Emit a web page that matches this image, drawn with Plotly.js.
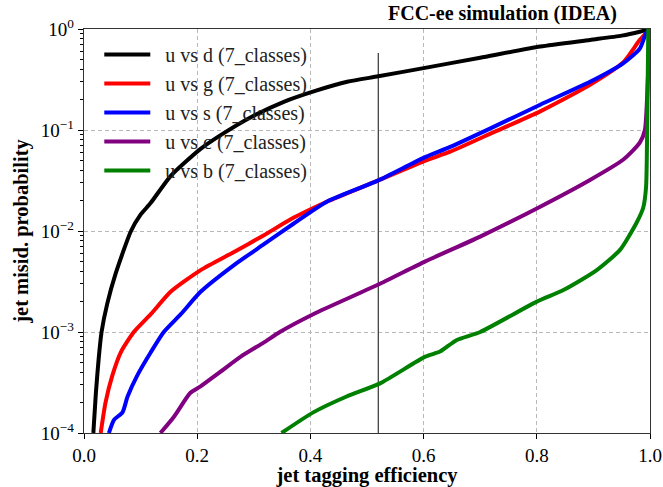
<!DOCTYPE html>
<html>
<head>
<meta charset="utf-8">
<script src="https://cdn.plot.ly/plotly-3.0.1.min.js"></script>
<style>html,body{margin:0;padding:0;background:#fff;}#chart{width:663px;height:487px;}</style>
</head>
<body>
<div id="chart"></div>
<script>
// u vs d
const eff_d  = [0.0165, 0.021, 0.026, 0.031, 0.041, 0.056, 0.083, 0.1, 0.118, 0.153, 0.206, 0.247, 0.294, 0.353, 0.41, 0.465, 0.52, 0.6, 0.7, 0.806, 0.894, 0.95, 0.982, 1.0];
const prob_d = [1e-4, 2.5e-4, 5.5e-4, 1e-3, 1.9e-3, 3.8e-3, 0.01, 0.0145, 0.019, 0.035, 0.065, 0.093, 0.133, 0.19, 0.245, 0.30, 0.34, 0.41, 0.52, 0.67, 0.78, 0.86, 0.94, 1.0];
// u vs g
const eff_g  = [0.0295, 0.038, 0.05, 0.065, 0.088, 0.118, 0.153, 0.206, 0.265, 0.318, 0.37, 0.429, 0.519, 0.6, 0.647, 0.72, 0.806, 0.894, 0.953, 0.982, 0.995, 1.0];
const prob_g = [1e-4, 2e-4, 3.7e-4, 6.3e-4, 1e-3, 1.5e-3, 2.5e-3, 4.1e-3, 6.2e-3, 9.1e-3, 0.0135, 0.0195, 0.0315, 0.049, 0.061, 0.093, 0.153, 0.28, 0.47, 0.78, 0.93, 1.0];
// u vs s
const eff_s  = [0.044, 0.053, 0.068, 0.077, 0.094, 0.118, 0.141, 0.171, 0.206, 0.265, 0.318, 0.37, 0.429, 0.519, 0.6, 0.647, 0.72, 0.806, 0.894, 0.953, 0.982, 0.993, 1.0];
const prob_s = [1e-4, 1.35e-4, 1.6e-4, 2.3e-4, 3.7e-4, 6.3e-4, 1e-3, 1.5e-3, 2.5e-3, 4.6e-3, 7.4e-3, 0.0118, 0.0195, 0.0315, 0.053, 0.068, 0.105, 0.178, 0.30, 0.46, 0.64, 0.91, 1.0];
// u vs c
const eff_c  = [0.135, 0.159, 0.188, 0.206, 0.24, 0.277, 0.318, 0.346, 0.405, 0.523, 0.603, 0.70, 0.806, 0.894, 0.953, 0.982, 0.991, 0.996, 1.0];
const prob_c = [1e-4, 1.45e-4, 2.5e-4, 2.9e-4, 4e-4, 5.7e-4, 7.9e-4, 1e-3, 1.5e-3, 3.0e-3, 5e-3, 8.8e-3, 0.0174, 0.032, 0.051, 0.075, 0.1, 0.3, 1.0];
// u vs b
const eff_b  = [0.349, 0.405, 0.464, 0.523, 0.603, 0.629, 0.658, 0.70, 0.80, 0.847, 0.906, 0.947, 0.976, 0.988, 0.993, 0.995, 0.997];
const prob_b = [1e-4, 1.6e-4, 2.3e-4, 3.1e-4, 5.7e-4, 6.4e-4, 8.3e-4, 1e-3, 2.0e-3, 2.6e-3, 4.1e-3, 6.5e-3, 0.012, 0.017, 0.027, 0.1, 1.0];
// working point marker line
const wp_eff  = [0.52, 0.52];
const wp_prob = [1e-4, 0.578];

const labels = ["u vs d (7_classes)", "u vs g (7_classes)", "u vs s (7_classes)", "u vs c (7_classes)", "u vs b (7_classes)"];
const colors = ["#000000", "#ff0000", "#0000ff", "#800080", "#008000"];

const xTickVals = [0, 0.2, 0.4, 0.6, 0.8, 1.0];
const xTickText = ["0.0", "0.2", "0.4", "0.6", "0.8", "1.0"];
const yTickVals = [1e-4, 1e-3, 1e-2, 1e-1, 1];
const yTickText = ["10<sup>−4</sup>", "10<sup>−3</sup>", "10<sup>−2</sup>", "10<sup>−1</sup>", "10<sup>0</sup>"];

const minorY = [];
for (const d of [1e-4, 1e-3, 1e-2, 1e-1]) for (let k = 2; k <= 9; k++) minorY.push(k * d);

const series = [[eff_d, prob_d], [eff_g, prob_g], [eff_s, prob_s], [eff_c, prob_c], [eff_b, prob_b]];
const SERIF = "Liberation Serif, Times New Roman, serif";

const traces = [{
  x: wp_eff, y: wp_prob, mode: "lines", showlegend: false, hoverinfo: "skip",
  line: {color: "#444444", width: 1.3}
}];
series.forEach((s, i) => traces.push({
  x: s[0], y: s[1], mode: "lines", name: "&nbsp;&nbsp;" + labels[i], legendgroup: "g" + i,
  line: {color: colors[i], width: 4, shape: "spline", smoothing: 0.6}
}));

const layout = {
  width: 663, height: 487,
  margin: {l: 84, r: 13, t: 29, b: 54},
  paper_bgcolor: "#fff", plot_bgcolor: "#fff",
  font: {family: SERIF, size: 18, color: "#000"},
  xaxis: {
    range: [0, 1], tickvals: xTickVals, ticktext: xTickText,
    ticks: "outside", ticklen: 5, tickwidth: 1, tickcolor: "#000",
    showline: true, linecolor: "#333", linewidth: 1.2, mirror: true,
    showgrid: true, gridcolor: "#b8b8b8", griddash: "4px,3px", gridwidth: 1,
    zeroline: false, tickfont: {family: SERIF, size: 19},
    title: {text: "<b>jet tagging efficiency</b>", font: {family: SERIF, size: 20.5}, standoff: 5}
  },
  yaxis: {
    type: "log", range: [-4, 0], tickvals: yTickVals, ticktext: yTickText,
    ticks: "outside", ticklen: 5, tickwidth: 1, tickcolor: "#000",
    minor: {tickvals: minorY, ticks: "outside", ticklen: 3, tickcolor: "#000", showgrid: false},
    showline: true, linecolor: "#333", linewidth: 1.2, mirror: true,
    showgrid: true, gridcolor: "#b8b8b8", griddash: "4px,3px", gridwidth: 1,
    zeroline: false, tickfont: {family: SERIF, size: 19},
    title: {text: "<b>jet misid. probability</b>", font: {family: SERIF, size: 20.5}, standoff: 6}
  },
  legend: {
    x: 0.027, y: 0.985, xanchor: "left", yanchor: "top",
    bgcolor: "rgba(0,0,0,0)", borderwidth: 0,
    font: {family: SERIF, size: 20, color: "#222"},
    itemwidth: 46,
    traceorder: "grouped", tracegroupgap: 0
  },
  annotations: [{
    xref: "paper", yref: "paper", x: 0.945, y: 1, yshift: 2,
    xanchor: "right", yanchor: "bottom", showarrow: false,
    text: "<b>FCC-ee simulation (IDEA)</b>", font: {family: SERIF, size: 20, color: "#000"}
  }]
};

Plotly.newPlot("chart", traces, layout, {displayModeBar: false, staticPlot: true});
</script>
</body>
</html>
